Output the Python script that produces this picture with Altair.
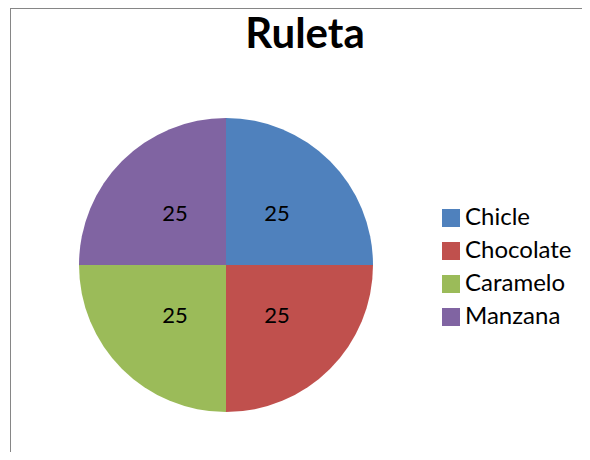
import altair as alt
import pandas as pd

sabores = ["Chicle", "Chocolate", "Caramelo", "Manzana"]
valores = [25, 25, 25, 25]
colores = ["#4F81BD", "#C0504D", "#9BBB59", "#8064A2"]
titulo = "Ruleta"

df = pd.DataFrame({"sabor": sabores, "valor": valores, "orden": list(range(len(sabores)))})

FONT = "Lato"
cx, cy = 218, 197

base = alt.Chart(df).encode(
    theta=alt.Theta("valor:Q", stack=True),
    order=alt.Order("orden:Q"),
)

pie = base.mark_arc(radius=147, strokeWidth=0).encode(
    x=alt.value(cx),
    y=alt.value(cy),
    color=alt.Color(
        "sabor:N",
        scale=alt.Scale(domain=sabores, range=colores),
        sort=sabores,
        legend=alt.Legend(
            title=None,
            orient="none",
            legendX=431,
            legendY=138,
            symbolType="square",
            symbolSize=324,
            symbolStrokeWidth=0,
            labelFont=FONT,
            labelFontSize=24,
            labelColor="#000000",
            rowPadding=9,
            labelOffset=2,
        ),
    ),
)

labels = base.mark_text(radius=72, font=FONT, fontSize=22, color="#000000").encode(
    x=alt.value(cx),
    y=alt.value(cy),
    text=alt.Text("valor:Q"),
)

title_df = pd.DataFrame({"t": [titulo]})
title = alt.Chart(title_df).mark_text(
    font=FONT, fontSize=42, fontWeight="bold", color="#000000", baseline="alphabetic", align="center"
).encode(x=alt.value(297), y=alt.value(-20), text="t:N")

border_left = alt.Chart(title_df).mark_rule(stroke="#868686", strokeWidth=1).encode(
    x=alt.value(2.5), y=alt.value(-59.5), y2=alt.value(384)
)
border_top = alt.Chart(title_df).mark_rule(stroke="#868686", strokeWidth=1).encode(
    y=alt.value(-59.5), x=alt.value(2), x2=alt.value(574)
)

chart = alt.layer(border_left, border_top, pie, labels, title).properties(
    width=574,
    height=384,
    autosize=alt.AutoSizeParams(type="none"),
    padding={"left": 0, "top": 60, "right": 0, "bottom": 0},
).configure_view(strokeWidth=0)

chart.save("out.html", embed_options={"renderer": "svg", "actions": False})
